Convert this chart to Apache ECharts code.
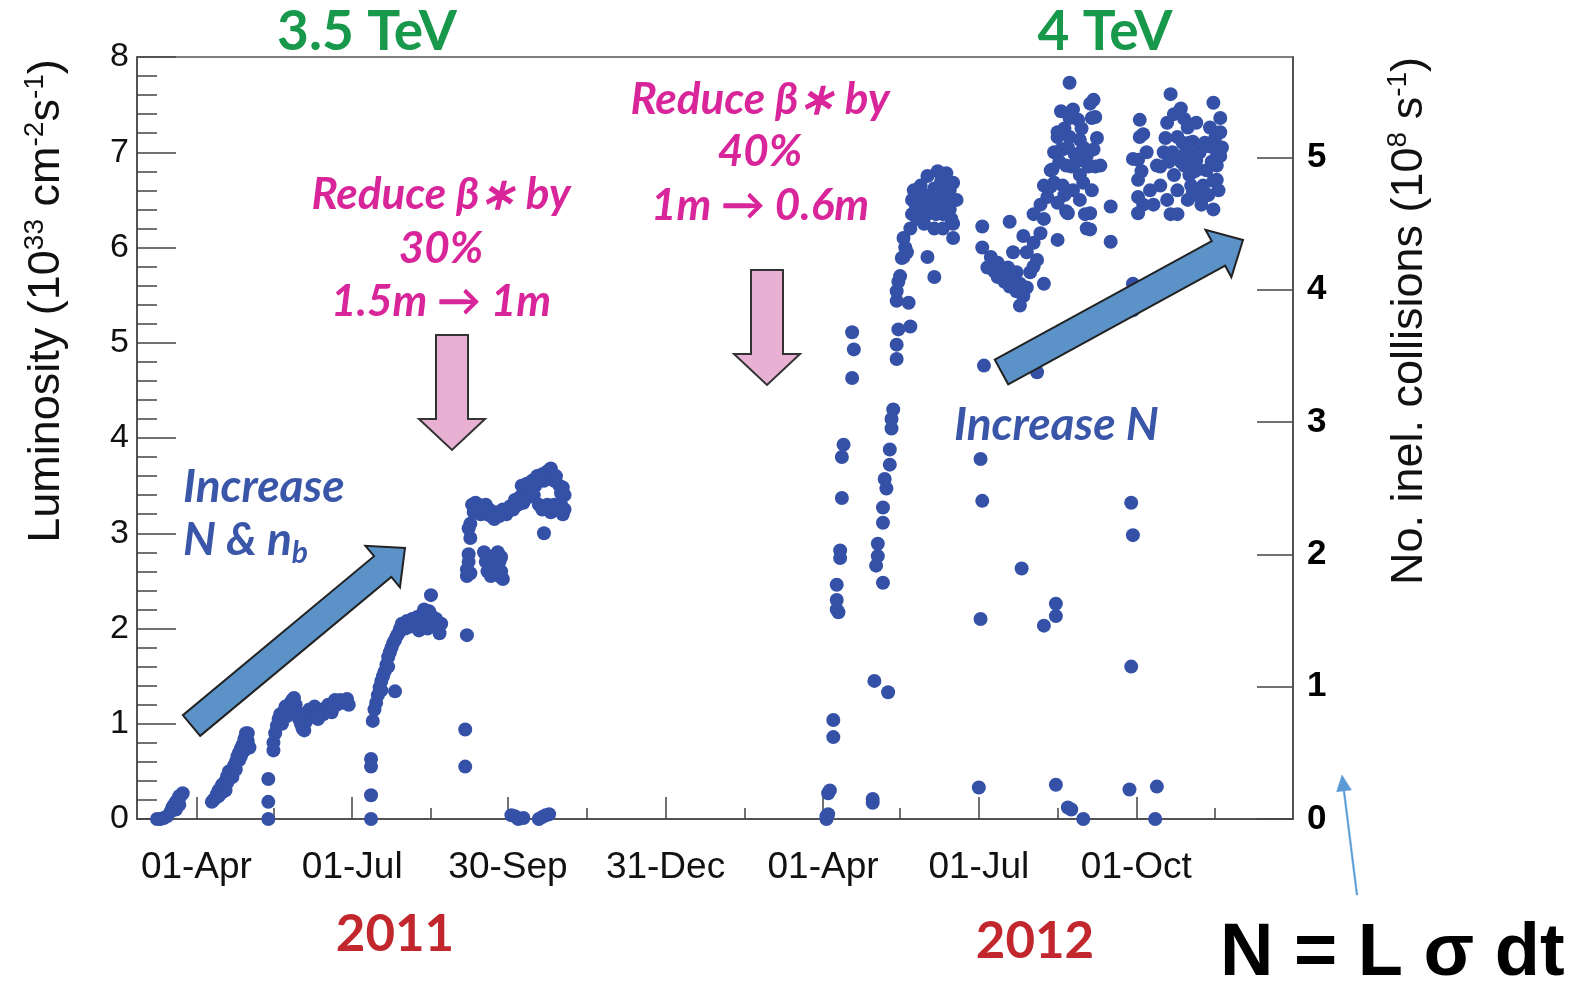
<!DOCTYPE html>
<html>
<head>
<meta charset="utf-8">
<title>LHC luminosity 2011-2012</title>
<script src="https://cdn.jsdelivr.net/npm/echarts@6/dist/echarts.min.js"></script>
<style>
  html, body { margin: 0; padding: 0; background: #fff; }
  #main { width: 1571px; height: 984px; }
</style>
</head>
<body>
<div id="main"></div>
<script>
// x = days after 01-Apr-2011, y = peak luminosity (1e33 cm^-2 s^-1)
var lumi2011 = [
  // March
  [-23,0],[-21,0],[-19,0.01],[-17,0.03],[-15,0.08],[-14,0.12],[-13,0.15],[-12,0.1],[-12,0.18],[-11,0.2],
  [-10,0.15],[-10,0.24],[-9,0.25],[-8,0.27],
  // April - May
  [9,0.18],[10,0.2],[11,0.22],[12,0.26],[13,0.3],[13,0.24],[14,0.32],[15,0.28],[15,0.36],[16,0.34],
  [17,0.4],[17,0.3],[18,0.38],[18,0.45],[19,0.42],[19,0.5],[20,0.48],[21,0.52],[21,0.44],[22,0.56],
  [23,0.6],[23,0.52],[24,0.66],[25,0.62],[25,0.7],[26,0.74],[26,0.66],[27,0.78],[28,0.72],[28,0.84],
  [29,0.9],[30,0.82],[30,0.9],[31,0.75],
  // May - June
  [42,0],[42,0.18],[42,0.42],[45,0.72],[45,0.8],[46,0.9],[47,0.98],[48,1.05],[49,1.1],[50,1.0],
  [51,1.12],[52,1.18],[53,1.08],[54,1.15],[55,1.22],[56,1.25],[57,1.27],[58,1.2],[59,1.12],[60,1.05],
  [61,1.0],[62,0.95],[63,0.93],[64,1.02],[65,1.1],[66,1.15],[67,1.08],[68,1.12],[69,1.18],[70,1.1],
  [71,1.05],[72,1.12],[73,1.15],[74,1.1],[75,1.12],[76,1.15],[77,1.2],[78,1.18],[79,1.12],[80,1.22],
  [81,1.25],[82,1.2],[84,1.25],[86,1.22],[88,1.26],[89,1.2],
  // July - August
  [102,0],[102,0.25],[102,0.55],[102,0.63],[103,1.03],[104,1.15],[105,1.22],[106,1.3],[107,1.38],[108,1.45],
  [108,1.35],[109,1.5],[110,1.55],[111,1.62],[112,1.6],[112,1.7],[113,1.75],[114,1.8],[115,1.85],[116,1.34],
  [116,1.88],[117,1.92],[118,1.95],[119,2.0],[120,2.05],[122,2.0],[123,2.08],[125,2.02],[126,2.1],[128,2.05],
  [129,2.12],[130,1.98],[131,2.08],[132,2.15],[133,2.2],[134,2.1],[135,2.0],[136,2.18],[137,2.35],[138,2.12],
  [139,2.05],[140,2.1],[141,2.0],[142,1.95],[143,2.05],
  // September - October
  [157,0.55],[157,0.94],[158,1.93],[158,2.55],[158,2.62],[159,2.7],[159,2.78],[160,2.58],[160,2.95],[159,3.05],
  [160,3.1],[161,3.3],[162,3.22],[163,3.32],[164,3.25],[165,3.3],[166,3.2],[167,3.28],[168,3.22],[169,3.3],
  [170,3.2],[171,3.25],[172,3.18],[173,3.2],[174,3.15],[168,2.8],[169,2.7],[170,2.6],[171,2.75],[172,2.55],
  [173,2.65],[176,2.8],[177,2.7],[178,2.6],[179,2.52],[178,2.75],[177,2.55],[175,3.22],[177,3.18],[179,3.25],
  [181,3.2],[183,3.28],[185,3.25],[186,3.35],[188,3.3],[189,3.38],[191,3.32],[192,3.42],[194,3.38],[195,3.45],
  [197,3.4],[190,3.5],[193,3.52],[196,3.55],[198,3.5],[199,3.6],[200,3.55],[202,3.62],[203,3.55],[204,3.58],
  [205,3.65],[206,3.6],[207,3.68],[208,3.58],[209,3.55],[210,3.6],[212,3.5],[213,3.42],[214,3.48],[215,3.4],
  [200,3.3],[202,3.25],[205,3.3],[207,3.22],[209,3.3],[211,3.25],[213,3.3],[214,3.2],[215,3.25],[203,3.0],
  [184,0.04],[186,0.03],[188,0.0],[191,0.01],[200,0],[202,0.02],[204,0.04],[206,0.05]
];

var lumi2012 = [
  // April
  [368,0],[368,0.03],[369,0.05],[369,0.27],[370,0.3],[372,0.86],[372,1.04],[374,2.2],[374,2.3],[374,2.46],
  [375,2.17],[376,2.74],[376,2.82],[377,3.37],[377,3.8],[378,3.93],[383,4.63],[384,4.93],[383,5.11],
  // April - May
  [395,0.17],[395,0.21],[396,1.45],[404,1.33],[397,2.66],[398,2.76],[398,2.89],[401,2.48],[401,3.11],[401,3.27],
  [402,3.57],[403,3.47],[405,3.72],[405,3.88],[406,4.1],[406,4.2],[407,4.3],[409,4.83],[409,4.98],[410,5.14],
  [409,5.44],[409,5.54],[410,5.64],[411,5.7],[412,5.89],[414,6.0],[413,6.1],[415,5.95],[417,5.17],[416,5.42],
  // May - June
  [417,6.2],[418,6.35],[418,6.5],[420,6.45],[423,6.65],[423,6.4],[425,6.55],[427,6.75],[427,6.35],[429,6.55],
  [431,6.2],[431,6.62],[433,6.8],[433,6.45],[434,6.58],[436,6.35],[436,6.2],[438,6.78],[438,6.55],[440,6.4],
  [442,6.68],[442,6.25],[444,6.5],[442,6.1],[427,5.9],[431,5.69],[413,5.9],[421,6.3],[425,6.25],[429,6.42],
  [435,6.7],[440,6.6],[419,6.6],[426,6.45],[432,6.35],[437,6.48],[439,6.68],[441,6.3],
  // July
  [459,6.22],[475,6.27],[483,6.12],[459,6.0],[464,5.9],[468,5.84],[474,5.79],[479,5.74],[485,5.95],[489,6.05],
  [491,5.87],[495,5.62],[483,5.49],[475,5.59],[468,5.69],[462,5.79],[472,5.64],[479,5.54],[487,5.74],[477,5.95],
  [481,5.39],[495,6.3],[493,6.15],[466,5.75],[470,5.72],[477,5.68],[481,5.62],[485,5.58],[489,5.8],
  // August
  [489,6.35],[493,6.45],[495,6.65],[497,6.53],[499,6.81],[499,6.64],[500,6.82],[501,6.68],[503,7.16],[503,7.21],
  [503,6.47],[503,6.08],[505,7.43],[505,7.03],[506,6.65],[506,7.03],[508,6.86],[508,6.38],[509,6.36],[510,7.73],
  [510,7.36],[510,7.16],[511,6.85],[513,6.98],[515,7.34],[516,7.13],[516,6.76],[516,6.5],[518,6.68],[519,6.35],
  [520,6.96],[520,6.2],[522,7.51],[522,6.36],[522,6.19],[523,7.36],[524,7.55],[524,7.03],[525,7.37],[525,6.85],
  [528,6.86],[534,6.43],[534,6.06],[501,7.0],[504,6.9],[507,7.25],[509,7.05],[512,7.45],[514,6.9],[517,7.25],
  [518,7.05],[521,6.85],[523,6.6],[526,7.15],[512,6.6],[507,6.55],
  // September - November
  [547,6.93],[550,6.92],[550,6.71],[550,6.53],[550,6.36],[551,7.34],[551,7.16],[553,7.19],[553,6.45],[561,6.86],
  [563,6.85],[563,6.65],[565,7.0],[567,7.31],[567,6.5],[569,7.61],[569,6.35],[571,6.76],[573,7.16],[573,6.6],
  [573,6.35],[575,7.46],[575,6.9],[577,6.86],[579,7.26],[579,6.5],[580,6.76],[580,6.98],[580,7.1],[582,7.11],
  [582,6.57],[584,6.91],[584,6.55],[584,7.31],[585,6.82],[588,6.65],[590,6.81],[592,7.06],[592,7.26],[594,7.52],
  [594,6.7],[594,6.4],[596,6.86],[596,6.71],[596,6.96],[598,7.36],[598,7.21],[598,6.96],
  [552,6.8],[555,7.0],[557,6.6],[559,6.45],[566,7.15],[568,6.9],[570,7.0],[572,6.95],[576,7.1],[578,7.0],
  [581,6.65],[583,6.8],[586,7.0],[587,6.45],[589,7.1],[591,6.55],[593,6.9],[595,7.15],[597,6.6],[599,7.05],
  [571,7.4],[577,7.35],
  // low-intensity and isolated fills
  [460,4.76],[491,4.69],[547,5.62],[547,5.34],[458,3.78],[459,3.34],[458,2.1],[457,0.33],[482,2.63],[502,2.26],
  [502,2.13],[495,2.03],[502,0.36],[509,0.12],[511,0.1],[518,0],[546,3.32],[547,2.98],[546,1.6],[545,0.31],
  [561,0.34],[560,0]
];

var tickDays = [0, 91, 182, 274, 366, 457, 549];
var tickLabels = ['01-Apr', '01-Jul', '30-Sep', '31-Dec', '01-Apr', '01-Jul', '01-Oct'];
var minorDays = [45, 137, 228, 320, 411, 503, 595];
var lumiTicks = [0, 1, 2, 3, 4, 5, 6, 7, 8];
var collTicks = [0, 1, 2, 3, 4, 5];
var sigmaInel = 0.72; // 72 mb: 1e33 cm^-2 s^-1 -> 0.72e8 collisions/s

var dayMin = -34.7, dayMax = 640.5;
var lumiMax = 8;

function arrowPoints(x1, y1, x2, y2, shaftHalf, headHalf, headLen) {
  var dx = x2 - x1, dy = y2 - y1;
  var len = Math.sqrt(dx * dx + dy * dy);
  var ux = dx / len, uy = dy / len, nx = -uy, ny = ux;
  var bx = x2 - ux * headLen, by = y2 - uy * headLen;
  return [
    [x1 + nx * shaftHalf, y1 + ny * shaftHalf],
    [bx + nx * shaftHalf, by + ny * shaftHalf],
    [bx + nx * headHalf, by + ny * headHalf],
    [x2, y2],
    [bx - nx * headHalf, by - ny * headHalf],
    [bx - nx * shaftHalf, by - ny * shaftHalf],
    [x1 - nx * shaftHalf, y1 - ny * shaftHalf]
  ];
}

function label(x, y, text, size, color, align, extra) {
  var style = {
    text: text, fontSize: size, fontWeight: 'bold', fontFamily: 'Lato',
    fill: color, align: align || 'center', verticalAlign: 'middle'
  };
  for (var k in extra) style[k] = extra[k];
  return { type: 'text', x: x, y: y, z: 100, style: style };
}

var axisColor = '#444';
var pink = '#d8259a', blueText = '#3a56a8', arrowBlue = '#5b93c9', arrowPink = '#e8b0d2';

var chart = echarts.init(document.getElementById('main'));

var option = {
  backgroundColor: '#fff',
  animation: false,
  grid: [
    { left: 137, right: 278, top: 57, bottom: 165, show: true, borderColor: '#555', borderWidth: 1.5 },
    { left: 137, right: 278, top: 57, bottom: 165, show: false }
  ],
  xAxis: [{
    type: 'value', gridIndex: 0, min: dayMin, max: dayMax,
    axisLine: { onZero: false, lineStyle: { color: axisColor, width: 1.5 } },
    axisTick: { inside: true, length: 22, customValues: tickDays, lineStyle: { color: axisColor, width: 1.5 } },
    axisLabel: {
      customValues: tickDays, margin: 30, fontSize: 37, color: '#111', fontFamily: 'Liberation Sans',
      formatter: function (v) { return tickLabels[tickDays.indexOf(v)]; }
    },
    splitLine: { show: false }
  }, {
    type: 'value', gridIndex: 1, min: dayMin, max: dayMax,
    axisLine: { show: false, onZero: false },
    axisTick: { inside: true, length: 11, customValues: minorDays, lineStyle: { color: axisColor, width: 1.5 } },
    axisLabel: { show: false },
    splitLine: { show: false }
  }],
  yAxis: [{
    type: 'value', gridIndex: 0, position: 'left', min: 0, max: lumiMax, interval: 1,
    axisLine: { show: true, onZero: false, lineStyle: { color: axisColor, width: 1.5 } },
    axisTick: { inside: true, length: 39, lineStyle: { color: axisColor, width: 1.5 } },
    minorTick: { show: true, splitNumber: 5, length: 20, lineStyle: { color: axisColor, width: 1.5 } },
    axisLabel: { margin: 8, fontSize: 34, color: '#111', fontFamily: 'Liberation Sans' },
    splitLine: { show: false }, minorSplitLine: { show: false }
  }, {
    type: 'value', gridIndex: 0, position: 'right', min: 0, max: lumiMax * sigmaInel,
    axisLine: { show: true, onZero: false, lineStyle: { color: axisColor, width: 1.5 } },
    axisTick: { inside: true, length: 36, customValues: collTicks, lineStyle: { color: axisColor, width: 1.5 } },
    axisLabel: { customValues: collTicks, margin: 14, fontSize: 35, fontWeight: 'bold', color: '#000', fontFamily: 'Liberation Sans' },
    splitLine: { show: false }
  }, {
    type: 'value', gridIndex: 1, min: 0, max: lumiMax, show: false
  }],
  series: [{
    name: '2011', type: 'scatter', xAxisIndex: 0, yAxisIndex: 0,
    data: lumi2011, symbolSize: 14, itemStyle: { color: '#3451a7', opacity: 1 }
  }, {
    name: '2012', type: 'scatter', xAxisIndex: 0, yAxisIndex: 0,
    data: lumi2012, symbolSize: 14, itemStyle: { color: '#3451a7', opacity: 1 }
  }],
  graphic: { elements: [
    // axis titles
    {
      type: 'text', x: 47, y: 301, rotation: Math.PI / 2, z: 100,
      style: {
        text: 'Luminosity (10{sup|33} cm{sup|-2}s{sup|-1})',
        fontSize: 45, fontFamily: 'Liberation Sans', fill: '#111', align: 'center', verticalAlign: 'middle',
        lineHeight: 52,
        rich: { sup: { fontSize: 28, lineHeight: 28, verticalAlign: 'top', fontFamily: 'Liberation Sans', fill: '#111' } }
      }
    },
    {
      type: 'text', x: 1410, y: 321, rotation: Math.PI / 2, z: 100,
      style: {
        text: 'No. inel. collisions (10{sup|8} s{sup|-1})',
        fontSize: 45, fontFamily: 'Liberation Sans', fill: '#111', align: 'center', verticalAlign: 'middle',
        lineHeight: 52,
        rich: { sup: { fontSize: 28, lineHeight: 28, verticalAlign: 'top', fontFamily: 'Liberation Sans', fill: '#111' } }
      }
    },
    // energy and year labels
    label(367, 32, '3.5 TeV', 55, '#18984a'),
    label(1105, 32, '4 TeV', 55, '#18984a'),
    label(395, 935, '2011', 51, '#c1272d'),
    label(1035, 942, '2012', 51, '#c1272d'),
    // beta* annotations
    label(441, 195, 'Reduce β∗ by', 44, pink, 'center', { fontStyle: 'italic' }),
    label(441, 249, '30%', 44, pink, 'center', { fontStyle: 'italic' }),
    label(441, 302, '1.5m → 1m', 44, pink, 'center', { fontStyle: 'italic' }),
    label(760, 100, 'Reduce β∗ by', 44, pink, 'center', { fontStyle: 'italic' }),
    label(760, 152, '40%', 44, pink, 'center', { fontStyle: 'italic' }),
    label(760, 206, '1m → 0.6m', 44, pink, 'center', { fontStyle: 'italic' }),
    // intensity annotations
    label(183, 487, 'Increase', 46, blueText, 'left', { fontStyle: 'italic' }),
    {
      type: 'text', x: 183, y: 540, z: 100,
      style: {
        text: '{m|N & n}{s|b}', align: 'left', verticalAlign: 'middle',
        rich: {
          m: { fontSize: 46, lineHeight: 56, fontWeight: 'bold', fontStyle: 'italic', fontFamily: 'Lato', fill: blueText },
          s: { fontSize: 30, lineHeight: 30, fontWeight: 'bold', fontStyle: 'italic', fontFamily: 'Lato', fill: blueText, verticalAlign: 'bottom' }
        }
      }
    },
    label(952, 425, 'Increase N', 46, blueText, 'left', { fontStyle: 'italic', backgroundColor: '#fff', padding: [0, 2, 8, 2] }),
    // arrows
    { type: 'polygon', z: 90, shape: { points: arrowPoints(191.5, 725.5, 405, 548, 13.5, 27, 29) },
      style: { fill: arrowBlue, stroke: '#222', lineWidth: 2 } },
    { type: 'polygon', z: 90, shape: { points: arrowPoints(1001.5, 372, 1243, 240, 14, 27, 28) },
      style: { fill: arrowBlue, stroke: '#222', lineWidth: 2 } },
    { type: 'polygon', z: 90, shape: { points: arrowPoints(452, 335, 452, 450, 16, 33, 31) },
      style: { fill: arrowPink, stroke: '#333', lineWidth: 2 } },
    { type: 'polygon', z: 90, shape: { points: arrowPoints(767, 270, 767, 385, 16, 33, 31) },
      style: { fill: arrowPink, stroke: '#333', lineWidth: 2 } },
    { type: 'polygon', z: 90, shape: { points: arrowPoints(1357, 895, 1342, 775, 0.8, 7.5, 16) },
      style: { fill: '#5b9bd5', stroke: '#5b9bd5', lineWidth: 0.5 } },
    // formula
    {
      type: 'text', x: 1220, y: 955, z: 100,
      style: { text: 'N = L σ dt', fontSize: 74, fontWeight: 'bold', fontFamily: 'Liberation Sans',
               fill: '#000', align: 'left', verticalAlign: 'middle' }
    }
  ] }
};

chart.setOption(option);
</script>
</body>
</html>
